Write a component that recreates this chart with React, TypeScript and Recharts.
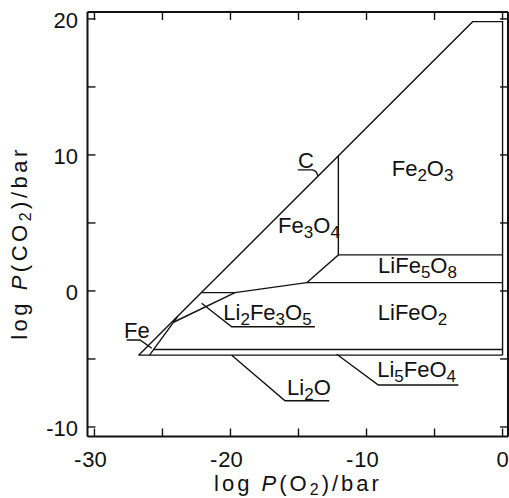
import { LineChart, Line, XAxis, YAxis, ReferenceDot } from 'recharts'

// axis ticks (every 5, labels every 10)
const xTicks = [-30, -25, -20, -15, -10, -5, 0]
const yTicks = [-10, -5, 0, 5, 10, 15, 20]

// phase boundaries as [log P(O2), log P(CO2)]
const carbonLine = [[-26.75, -4.72], [-2.2, 19.8], [0, 19.8], [0, -4.72]]
const li2oLine = [[-26.75, -4.72], [0, -4.72]]
const li5feo4Line = [[-25.66, -4.3], [0, -4.3]]
const feLine = [[-23.9, -1.9], [-25.95, -4.72]]
const li2fe3o5Upper = [[-24.19, -2.3], [-19.67, -0.12]]
const triangleTop = [[-22.12, -0.12], [-19.67, -0.12]]
const lifeo2Upper = [[-19.67, -0.12], [-14.4, 0.61], [0, 0.61]]
const life5o8Upper = [[-14.4, 0.61], [-12.07, 2.65], [0, 2.65]]
const fe3o4Fe2o3 = [[-12.07, 2.65], [-12.07, 9.93]]

// label leaders
const cLeader = [[-15.05, 8.9], [-13.95, 8.9], [-13.72, 8.78], [-13.55, 8.45]]
const feLeader = [[-27.63, -3.6], [-26.65, -3.6], [-25.79, -4.21]]
const li2fe3o5Leader = [[-22.12, -0.9], [-19.91, -2.63], [-13.79, -2.63]]
const li2oLeader = [[-19.91, -4.72], [-15.99, -8.07], [-12.74, -8.07]]
const li5feo4Leader = [[-12.19, -4.65], [-9.13, -6.91], [-3.25, -6.91]]

// phase labels ("_n" = subscript)
const labelNames = ['C', 'Fe_2O_3', 'Fe_3O_4', 'LiFe_5O_8', 'LiFeO_2', 'Li_2Fe_3O_5', 'Fe', 'Li_2O', 'Li_5FeO_4']
const labelX = [-14.45, -5.88, -14.23, -6.25, -6.62, -17.28, -26.88, -14.23, -6.32]
const labelY = [9.04, 8.46, 4.24, 1.3, -2.13, -2.13, -3.46, -7.65, -6.3]

const segments = [
  carbonLine, li2oLine, li5feo4Line, feLine, li2fe3o5Upper, triangleTop,
  lifeo2Upper, life5o8Upper, fe3o4Fe2o3,
  cLeader, feLeader, li2fe3o5Leader, li2oLeader, li5feo4Leader,
].map(s => s.map(([x, y]) => ({ x, y })))

// hidden point so the top / right frame axes get a series
const anchor = [{ x: -10, y: 0 }]

const FONT = '"Liberation Sans", Arial, sans-serif'
const INK = '#111'
const TICK = 8

function Chem({ cx, cy, f }: { cx: number; cy: number; f: string }) {
  const parts = f.split(/(_\d)/).filter(Boolean)
  let down = false
  return (
    <text x={cx} y={cy} textAnchor="middle" fontFamily={FONT} fontSize={22} fill={INK}>
      {parts.map((p, i) => {
        if (p.startsWith('_')) {
          down = true
          return <tspan key={i} fontSize={17} dy={5}>{p[1]}</tspan>
        }
        const dy = down ? -5 : 0
        down = false
        return <tspan key={i} dy={dy}>{p}</tspan>
      })}
    </text>
  )
}

// inward tick mark + (for bottom/left) label every 10
function FrameTick({ x, y, payload, side }: any) {
  const v = payload.value
  const labelled = v % 10 === 0
  const mark =
    side === 'bottom' ? [x, y, x, y - TICK] :
    side === 'top' ? [x, y, x, y + TICK] :
    side === 'left' ? [x, y, x + TICK, y] : [x, y, x - TICK, y]
  const line = <line x1={mark[0]} y1={mark[1]} x2={mark[2]} y2={mark[3]} stroke={INK} strokeWidth={1.4} />
  if (!labelled || side === 'top' || side === 'right') return <g>{line}</g>
  if (side === 'left') {
    return (
      <g>
        {line}
        <text x={x - 9.5} y={y + 9.4} textAnchor="end" fontFamily={FONT} fontSize={22} fill={INK}>{String(v)}</text>
      </g>
    )
  }
  const digits = String(Math.abs(v))
  const w = digits.length * 12.2
  return (
    <g fontFamily={FONT} fontSize={22} fill={INK}>
      {line}
      <text x={x} y={y + 30.5} textAnchor="middle">{digits}</text>
      {v < 0 && <text x={x - w / 2 - 1} y={y + 30.5} textAnchor="end">-</text>}
    </g>
  )
}

const axisLine = { stroke: INK, strokeWidth: 2 }
const xDomain = [-30.51, 0.4]
const yDomain = [-10.7, 20.51]

export default function App() {
  return (
    <div style={{ position: 'fixed', left: 0, top: 0, width: 509, height: 498, fontFamily: FONT, color: INK, background: '#fff' }}>
      <LineChart width={509} height={498} margin={{ top: 0, right: 0, left: 27.5, bottom: 21.5 }}>
        <XAxis dataKey="x" type="number" domain={xDomain} ticks={xTicks} interval={0} height={40}
          axisLine={axisLine} tickLine={false} tickSize={0} tickMargin={0} tick={<FrameTick side="bottom" />} />
        <YAxis type="number" domain={yDomain} ticks={yTicks} interval={0} width={60}
          axisLine={axisLine} tickLine={false} tickSize={0} tickMargin={0} tick={<FrameTick side="left" />} />
        <XAxis xAxisId="t" dataKey="x" type="number" orientation="top" domain={xDomain} ticks={xTicks} interval={0} height={12}
          axisLine={axisLine} tickLine={false} tickSize={0} tickMargin={0} tick={<FrameTick side="top" />} />
        <YAxis yAxisId="r" type="number" orientation="right" domain={yDomain} ticks={yTicks} interval={0} width={1}
          axisLine={axisLine} tickLine={false} tickSize={0} tickMargin={0} tick={<FrameTick side="right" />} />
        <Line xAxisId="t" yAxisId="r" data={anchor} dataKey="y" stroke="none" dot={false} activeDot={false} isAnimationActive={false} />
        {segments.map((seg, i) => (
          <Line key={i} data={seg} dataKey="y" type="linear" stroke={INK} strokeWidth={1.4}
            dot={false} activeDot={false} isAnimationActive={false} />
        ))}
        {labelNames.map((f, i) => (
          <ReferenceDot key={f} x={labelX[i]} y={labelY[i]} r={1}
            shape={(p: any) => <Chem cx={p.cx} cy={p.cy} f={f} />} />
        ))}
      </LineChart>
      <div style={{ position: 'absolute', left: 298, top: 473, transform: 'translateX(-50%)', fontSize: 22, lineHeight: 1, letterSpacing: 3, whiteSpace: 'nowrap' }}>
        log <i>P</i>(O<sub style={{ fontSize: 16, verticalAlign: -4 }}>2</sub>)/bar
      </div>
      <div style={{ position: 'absolute', left: 21, top: 243, transform: 'translate(-50%, -50%) rotate(-90deg)', fontSize: 22, lineHeight: 1, letterSpacing: 3.5, whiteSpace: 'nowrap' }}>
        log <i>P</i>(CO<sub style={{ fontSize: 16, verticalAlign: -4 }}>2</sub>)/bar
      </div>
    </div>
  )
}
